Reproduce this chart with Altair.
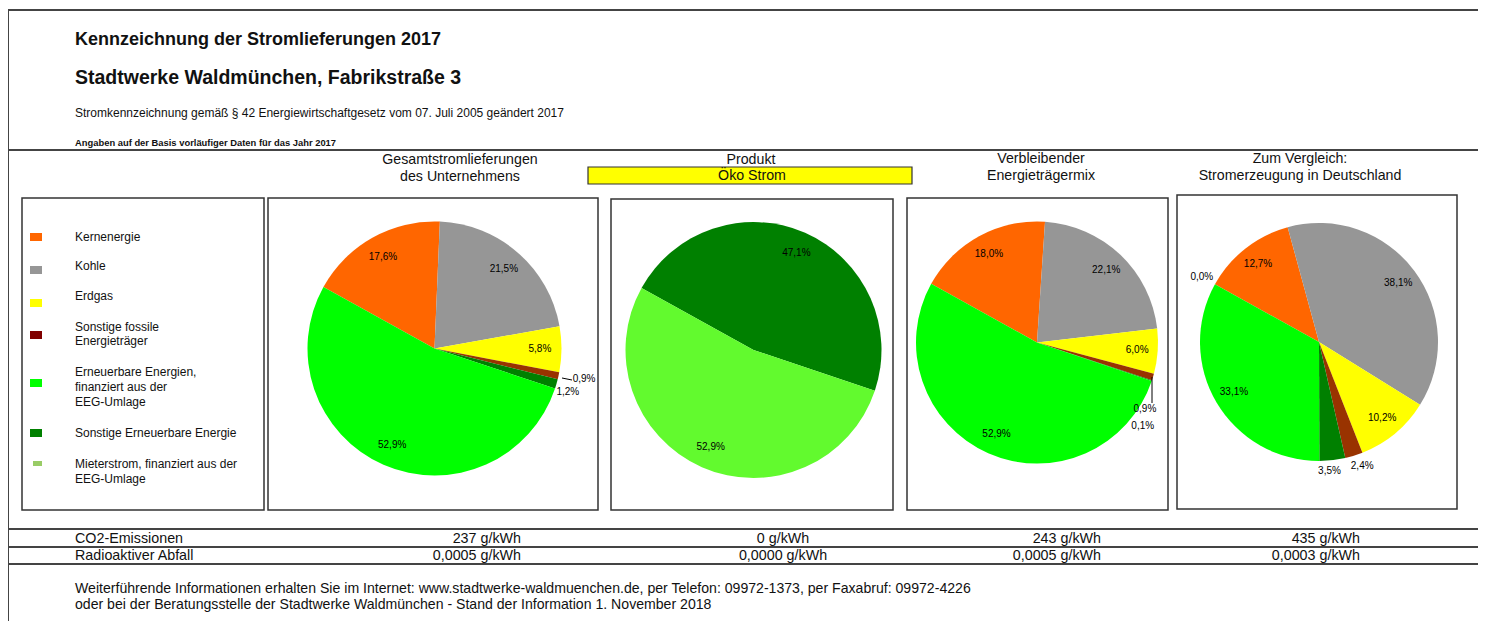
import math
import altair as alt
import pandas as pd

# ---------------- data ----------------
KEYS = ["kern", "kohle", "gas", "fossil", "see", "eeg", "mieter"]
LEGEND_KEYS = ["kern", "kohle", "gas", "fossil", "eeg", "see", "mieter"]
LEGEND_LABELS = [
    ["Kernenergie"],
    ["Kohle"],
    ["Erdgas"],
    ["Sonstige fossile", "Energieträger"],
    ["Erneuerbare Energien,", "finanziert aus der", "EEG-Umlage"],
    ["Sonstige Erneuerbare Energie"],
    ["Mieterstrom, finanziert aus der", "EEG-Umlage"],
]

GESAMT = [17.6, 21.5, 5.8, 0.9, 1.2, 52.9, None]
PRODUKT = [None, None, None, None, 47.1, 52.9, None]
VERBLEIB = [18.0, 22.1, 6.0, 0.9, 0.1, 52.9, None]
DEUTSCHLAND = [12.7, 38.1, 10.2, 2.4, 3.5, 33.1, 0.0]

HEADERS = [
    ["Gesamtstromlieferungen", "des Unternehmens"],
    ["Produkt"],
    ["Verbleibender", "Energieträgermix"],
    ["Zum Vergleich:", "Stromerzeugung in Deutschland"],
]
PRODUCT_NAME = "Öko Strom"

ROW_LABELS = ["CO2-Emissionen", "Radioaktiver Abfall"]
CO2 = ["237 g/kWh", "0 g/kWh", "243 g/kWh", "435 g/kWh"]
WASTE = ["0,0005 g/kWh", "0,0000 g/kWh", "0,0005 g/kWh", "0,0003 g/kWh"]

TITLE1 = "Kennzeichnung der Stromlieferungen 2017"
TITLE2 = "Stadtwerke Waldmünchen, Fabrikstraße 3"
SUB1 = "Stromkennzeichnung gemäß § 42 Energiewirtschaftgesetz vom 07. Juli 2005 geändert 2017"
SUB2 = "Angaben auf der Basis vorläufiger Daten für das Jahr 2017"
FOOT1 = ("Weiterführende Informationen erhalten Sie im Internet: www.stadtwerke-waldmuenchen.de, "
         "per Telefon: 09972-1373, per Faxabruf: 09972-4226")
FOOT2 = "oder bei der Beratungsstelle der Stadtwerke Waldmünchen - Stand der Information 1. November 2018"

# ---------------- style ----------------
PALETTE = {
    "kern": "#FF6600", "kohle": "#969696", "gas": "#FFFF00", "fossil": "#993300",
    "see": "#008000", "eeg": "#00FF00", "mieter": "#99CC66", "eeg_oko": "#62FA2E",
}
LEGEND_SWATCH = dict(PALETTE, fossil="#800000")
FONT = "Liberation Sans"
INK = "#111111"
LINE = "#444444"
OFF = 8  # page margin

ONE = alt.Data(values=[{"a": 1}])
A0 = math.radians(299)
THETA_SCALE = alt.Scale(domain=[0, 1], range=[A0, A0 + 2 * math.pi])
COLOR_SCALE = alt.Scale(domain=list(PALETTE.keys()), range=list(PALETTE.values()))
LABEL_SIZE = 10


def P(v):
    return alt.value(v - OFF)


def text(s, x, y, size, weight="normal", align="left", color=INK):
    return alt.Chart(ONE).mark_text(
        text=s, font=FONT, fontSize=size, fontWeight=weight, align=align,
        baseline="middle", color=color,
    ).encode(x=P(x), y=P(y))


def rule(x1, y1, x2, y2, width=2, color=LINE):
    return alt.Chart(ONE).mark_rule(stroke=color, strokeWidth=width).encode(
        x=P(x1), x2=P(x2), y=P(y1), y2=P(y2))


def box(x1, y1, x2, y2, fill="white", stroke="#333333", width=1.5):
    return alt.Chart(ONE).mark_rect(fill=fill, stroke=stroke, strokeWidth=width).encode(
        x=P(x1), x2=P(x2), y=P(y1), y2=P(y2))


def pie(values, cx, cy, r, small_specs, oko=False):
    rows = []
    for i, (k, v) in enumerate(zip(KEYS, values)):
        if v is None:
            continue
        ck = "eeg_oko" if (oko and k == "eeg") else k
        rows.append({"key": k, "ckey": ck, "v": v, "k": i})
    df = pd.DataFrame(rows)
    base = alt.Chart(df).transform_calculate(
        lbl="replace(format(datum.v, '.1f'), '.', ',') + '%'")
    theta = alt.Theta("v:Q", stack="normalize", scale=THETA_SCALE)
    order = alt.Order("k:Q", sort="ascending")
    pos = dict(x=P(cx), y=P(cy))
    layers = [
        base.mark_arc(radius=r, strokeWidth=0).encode(
            theta=theta, order=order,
            color=alt.Color("ckey:N", scale=COLOR_SCALE, legend=None), **pos),
        base.transform_calculate(t="datum.v >= 5 ? datum.lbl : ''").mark_text(
            radius=0.83 * r, font=FONT, fontSize=LABEL_SIZE, color="#000000",
            align="center", baseline="middle").encode(
            theta=theta, order=order, text="t:N", **pos),
    ]
    for cond, roff, dx, dy in small_specs:
        layers.append(
            base.transform_calculate(t=f"({cond}) ? datum.lbl : ''").mark_text(
                radius=r + roff, dx=dx, dy=dy, font=FONT, fontSize=LABEL_SIZE,
                color="#000000", align="center", baseline="middle").encode(
                theta=theta, order=order, text="t:N", **pos))
    return layers


layers = []

# frame lines
layers += [
    rule(8, 10, 1486, 10),
    rule(8, 10, 8, 621),
    rule(8, 150, 1486, 150),
    rule(8, 529, 1486, 529),
    rule(8, 547, 1486, 547),
    rule(8, 564, 1486, 564),
]

# titles
layers += [
    text(TITLE1, 75, 40, 18, "bold"),
    text(TITLE2, 75, 78, 19.5, "bold"),
    text(SUB1, 75, 113, 12),
    text(SUB2, 75, 143, 9.4, "bold"),
]

# boxes
layers += [
    box(22, 198, 264, 510),
    box(268, 198, 598, 510),
    box(611, 199, 893, 510),
    box(907, 198, 1168, 510),
    box(1177, 195, 1457, 509),
    box(588, 167, 912, 184, fill="#FFFF00", width=1.2),
]

# column headers
HEAD_X = [460, 751, 1041, 1300]
HEAD_Y = [160, 177]
for hx, lines in zip(HEAD_X, HEADERS):
    for j, s in enumerate(lines):
        layers.append(text(s, hx, HEAD_Y[j] - (1 if hx > 1000 else 0), 14.2, align="center"))
layers.append(text(PRODUCT_NAME, 752, 176, 14.2, align="center"))

# legend
SW = [(30, 233, 42, 241), (30, 266, 42, 274), (30, 299, 42, 307), (30, 331, 42, 339),
      (30, 379, 42, 387), (30, 429, 42, 437), (33, 461, 42, 466)]
TY = [[237], [266], [296], [327, 341], [372, 387, 402], [433], [464, 479]]
for key, lines, sw, ty in zip(LEGEND_KEYS, LEGEND_LABELS, SW, TY):
    layers.append(box(*sw, fill=LEGEND_SWATCH[key], stroke=LEGEND_SWATCH[key], width=0))
    for s, y in zip(lines, ty):
        layers.append(text(s, 75, y, 12))

# pies
layers += pie(GESAMT, 434.5, 348.5, 127,
              [("datum.key == 'fossil'", 18, 8, -1), ("datum.key == 'see'", 16, -4, 4)])
layers += pie(PRODUKT, 753.5, 350, 128, [], oko=True)
layers += pie(VERBLEIB, 1037, 342.5, 121,
              [("datum.key == 'fossil'", 2, -10, 31), ("datum.key == 'see'", 2, -11, 45)])
layers += pie(DEUTSCHLAND, 1319, 342, 119,
              [("datum.key == 'fossil'", 11, 5, 0), ("datum.key == 'see'", 10, -4, 1),
               ("datum.v == 0", 15, 0, 0)])

# leader lines
layers += [
    rule(562, 378, 572, 380, width=1, color="#000000"),
    rule(1152, 377, 1152, 403, width=1, color="#000000"),
]

# table
layers += [text(ROW_LABELS[0], 75, 539, 14.3), text(ROW_LABELS[1], 75, 556, 14.3)]
COLS = [(521, "right"), (783, "center"), (1101, "right"), (1360, "right")]
for (cx, al), a, b in zip(COLS, CO2, WASTE):
    layers.append(text(a, cx, 539, 14.3, align=al))
    layers.append(text(b, cx, 556, 14.3, align=al))

# footer
layers += [text(FOOT1, 75, 589, 14.1), text(FOOT2, 75, 605, 14.1)]

chart = alt.layer(*layers).properties(
    width=1486 - 2 * OFF, height=613, padding=0, autosize="none", background="white"
).configure_view(stroke=None)

chart.save("out.html", embed_options={"renderer": "svg", "actions": False})
